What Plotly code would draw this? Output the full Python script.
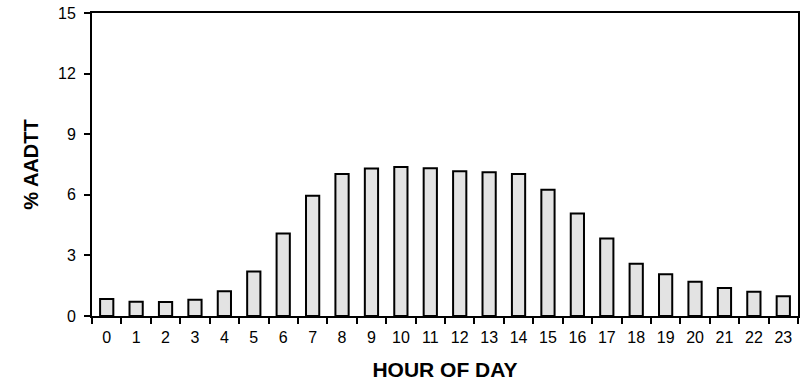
import plotly.graph_objects as go

hours = [str(h) for h in range(24)]
pct_aadtt = [0.84, 0.70, 0.69, 0.80, 1.23, 2.20, 4.08, 5.95, 7.03, 7.30, 7.38, 7.31,
             7.17, 7.12, 7.03, 6.25, 5.07, 3.84, 2.59, 2.07, 1.69, 1.38, 1.20, 0.98]
y_ticks = [0, 3, 6, 9, 12, 15]

fig = go.Figure(go.Bar(
    x=hours, y=pct_aadtt,
    marker=dict(color="#E3E3E3", line=dict(color="black", width=2)),
))

fig.update_layout(
    width=810, height=383,
    margin=dict(l=92, r=12, t=13, b=67, autoexpand=False),
    plot_bgcolor="white", paper_bgcolor="white",
    bargap=0.55,
    showlegend=False,
    font=dict(family="Liberation Sans, Arial, sans-serif", size=16, color="black"),
)
fig.update_xaxes(
    type="category", tickson="boundaries", automargin=False,
    showline=True, linecolor="black", linewidth=2, mirror=True,
    ticks="outside", ticklen=6, tickwidth=2, tickcolor="black",
    tickfont=dict(size=16), ticklabelstandoff=6,
    showgrid=False,
    title=dict(text="<b>HOUR OF DAY</b>", font=dict(size=21), standoff=17),
)
fig.update_yaxes(
    range=[0, 15], tickvals=y_ticks, automargin=False,
    showline=True, linecolor="black", linewidth=2, mirror=True,
    ticks="outside", ticklen=6, tickwidth=2, tickcolor="black",
    tickfont=dict(size=16), ticklabelstandoff=5, ticklabeloverflow="allow",
    showgrid=False, zeroline=False,
    title=dict(text="<b>% AADTT</b>", font=dict(size=20), standoff=14),
)

fig.write_html(
    "out.html",
    config={"displayModeBar": False},
    post_script="document.body.style.margin='0';document.body.style.overflow='hidden';",
)
